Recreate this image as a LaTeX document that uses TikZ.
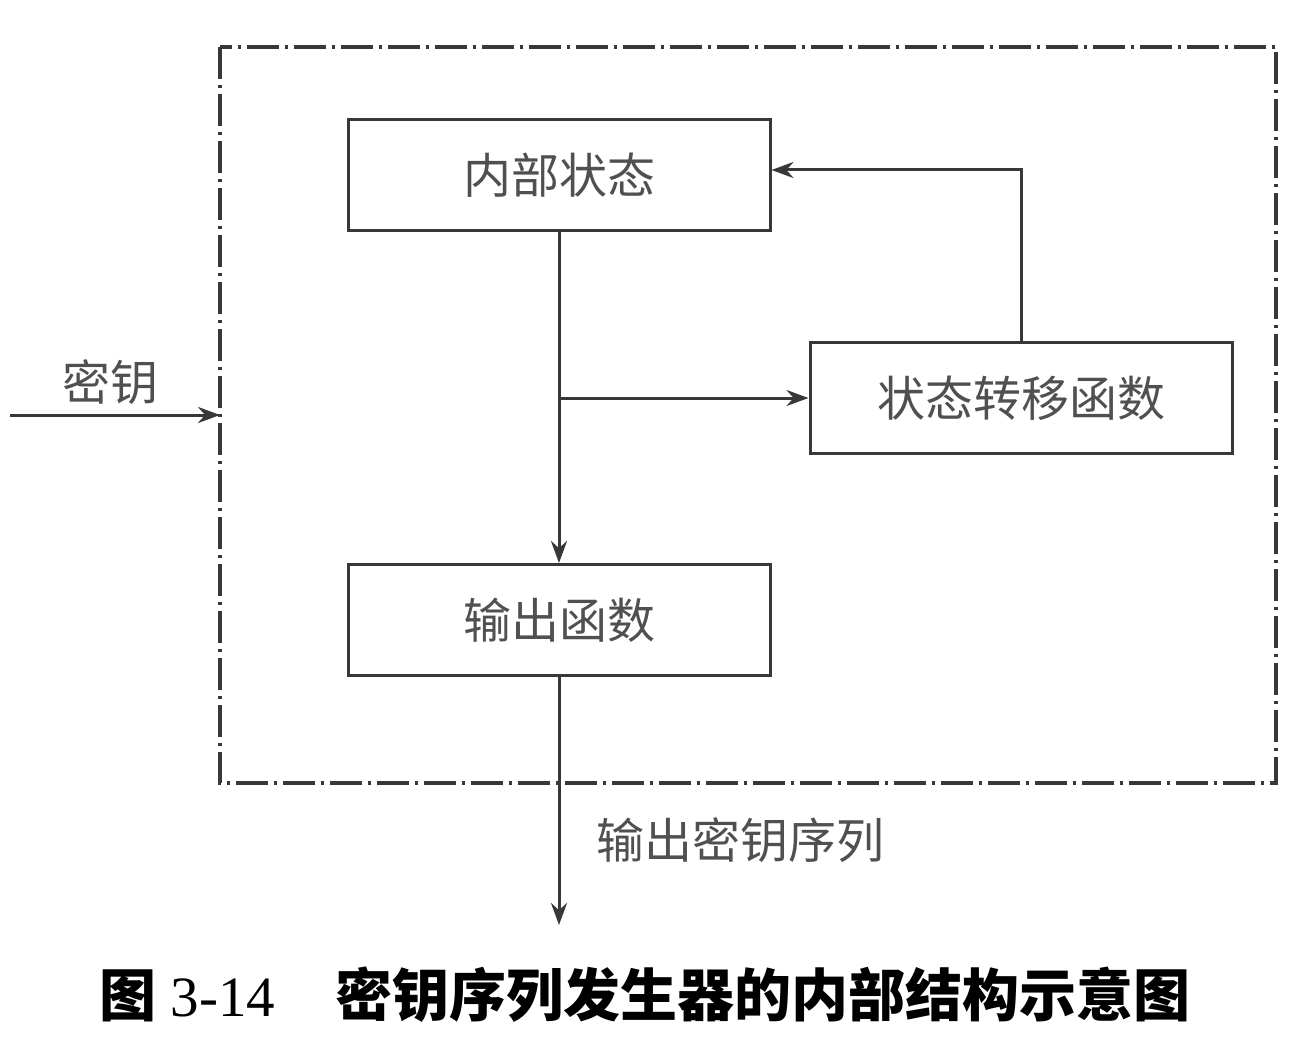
\documentclass[tikz,border=0pt]{standalone}
\usepackage{fontspec}
\setmainfont{Liberation Serif}
\newfontfamily\cjk{Noto Sans CJK SC}
\usetikzlibrary{arrows.meta}
\definecolor{linegray}{HTML}{383838}
\definecolor{textgray}{HTML}{505050}
\begin{document}
\begin{tikzpicture}[x=0.5pt,y=-0.5pt,
  box/.style={draw=linegray,line width=1.5pt,minimum width=211pt,minimum height=55.5pt,
    inner sep=0pt,font=\cjk\fontsize{24}{24}\selectfont,text=textgray},
  wire/.style={draw=linegray,line width=1.5pt,-{Stealth[length=11pt,width=8pt]}},
  frame/.style={draw=linegray,line width=2pt,dash pattern=on 16pt off 3pt on 1.5pt off 3pt},
  tag/.style={font=\cjk\fontsize{24}{24}\selectfont,text=textgray,inner sep=0pt},
  caption/.style={font=\fontsize{28.5}{28.5}\selectfont,inner sep=0pt}]
\useasboundingbox (0,0) rectangle (1310,1048);
% generator frame
\draw[frame] (220,47) rectangle (1276,783);
% blocks
\node[box] (state) at (559,175) {内部状态};
\node[box] (trans) at (1021,398) {状态转移函数};
\node[box] (out) at (559,620) {输出函数};
\coordinate (split) at (state.south |- trans.west);
% connectors
\draw[wire] (state.south) -- (out.north);
\draw[wire] (split) -- (trans.west);
\draw[wire] (trans.north) |- ([yshift=2.5pt]state.east);
% key in
\coordinate (keyin) at (10,415);
\coordinate (keyend) at (220,415);
\draw[wire] (keyin) -- (keyend);
\node[tag] (keytag) at (110,382) {密钥};
% key stream out
\coordinate (outend) at (559,925);
\draw[wire] (out.south) -- (outend);
\node[tag] (outtag) at (740,840) {输出密钥序列};
% caption
\node[caption] (cap) at (645,995) {{\cjk\bfseries 图} 3-14\hspace{30pt}{\cjk\bfseries 密钥序列发生器的内部结构示意图}};
\end{tikzpicture}
\end{document}
